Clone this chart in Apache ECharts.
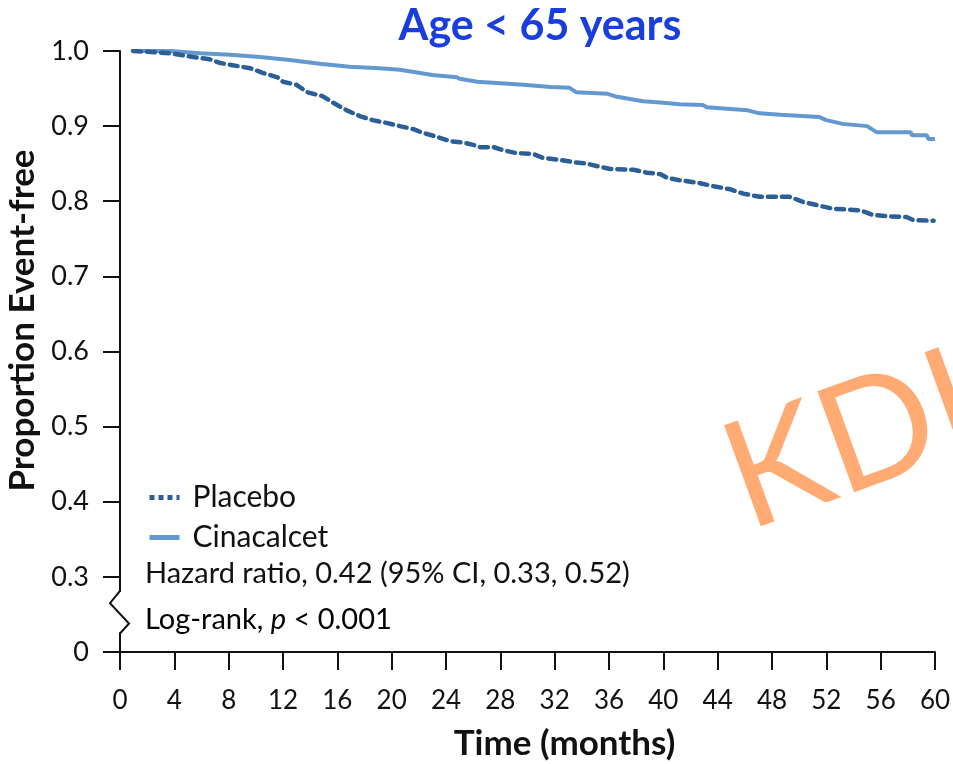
<!DOCTYPE html>
<html>
<head>
<meta charset="utf-8">
<script src="https://cdn.jsdelivr.net/npm/echarts@6/dist/echarts.min.js"></script>
<style>
html,body{margin:0;padding:0;background:#fff;}
#chart{width:953px;height:764px;}
</style>
</head>
<body>
<div id="chart"></div>
<script>
// ---- data ----
const seriesNames = ['Placebo', 'Cinacalcet'];
const xTicks = [0,4,8,12,16,20,24,28,32,36,40,44,48,52,56,60];
const yTickLabels = ['0','0.3','0.4','0.5','0.6','0.7','0.8','0.9','1.0'];

const placeboMonths = [0.96,3.7,5.4,6.6,7.4,8.3,9.6,10.5,11.6,12.0,13.0,13.8,14.9,15.7,16.7,17.7,18.6,19.7,20.6,21.6,22.3,23.3,24.3,25.3,26.0,26.5,27.5,28.2,29.2,30.4,31.1,32.4,33.4,34.4,35.3,36.1,37.8,38.8,39.8,40.3,41.2,42.7,43.7,44.9,45.9,47.1,49.3,50.3,51.5,52.5,54.5,55.4,56.5,57.9,58.4,59.9];
const placeboValues = [1.000,0.997,0.992,0.989,0.984,0.981,0.977,0.971,0.965,0.959,0.955,0.945,0.940,0.931,0.921,0.913,0.908,0.904,0.900,0.896,0.891,0.886,0.880,0.878,0.875,0.872,0.872,0.868,0.864,0.863,0.858,0.855,0.852,0.850,0.846,0.843,0.842,0.838,0.836,0.831,0.828,0.824,0.820,0.816,0.810,0.806,0.806,0.799,0.794,0.790,0.788,0.782,0.780,0.779,0.775,0.774];

const cinacalcetMonths = [0.96,3.7,5.9,8.1,10.3,12.5,14.7,16.9,19.1,20.6,23.0,24.8,25.0,26.3,28.0,29.7,31.7,33.1,33.6,35.9,36.6,38.5,40.0,41.2,42.9,43.2,46.2,47.1,48.6,51.5,52.0,53.2,55.0,55.7,58.2,58.3,59.4,59.5,60.0];
const cinacalcetValues = [1.000,1.000,0.997,0.995,0.992,0.988,0.983,0.979,0.977,0.975,0.968,0.965,0.963,0.959,0.957,0.955,0.952,0.951,0.945,0.943,0.939,0.933,0.931,0.929,0.928,0.925,0.921,0.917,0.915,0.912,0.908,0.903,0.900,0.892,0.892,0.888,0.888,0.883,0.883];

const titleText = 'Age < 65 years';
const hrText = 'Hazard ratio, 0.42 (95% CI, 0.33, 0.52)';

// broken axis: 0 is drawn one interval below 0.3
const BREAK_POS = 0.2;

const FONT = 'Lato, "Open Sans", sans-serif';
const PLACEBO_COLOR = '#2c5e97';
const CINA_COLOR = '#6399d0';
const chart = echarts.init(document.getElementById('chart'));

function zip(a, b){ return a.map((m,i)=>[m, b[i]]); }

const option = {
  animation: false,
  backgroundColor: '#ffffff',
  title: {
    text: titleText,
    left: 535, top: 0, textAlign: 'center',
    textStyle: {fontFamily: FONT, fontSize: 43, fontWeight: 'bold', color: '#1a3de0'}
  },
  grid: {left: 120, right: 18, top: 51, bottom: 112, containLabel: false, outerBoundsMode: 'none'},
  legend: {
    orient: 'vertical', left: 147, top: 482, padding: 0,
    itemWidth: 30, itemHeight: 10, itemGap: 9,
    itemStyle: {opacity: 0},
    data: [
      {name: seriesNames[0], lineStyle: {color: PLACEBO_COLOR, width: 5, type: [5, 4], cap: 'butt'}},
      {name: seriesNames[1], lineStyle: {color: CINA_COLOR, width: 5, type: 'solid'}}
    ],
    textStyle: {fontFamily: FONT, fontSize: 30, color: '#111', padding: [0,0,0,8], lineHeight: 31}
  },
  xAxis: {
    type: 'value', min: 0, max: 60, interval: 4,
    name: 'Time (months)', nameLocation: 'middle', nameGap: 74,
    nameTextStyle: {fontFamily: FONT, fontSize: 35, fontWeight: 'bold', color: '#111', padding: [0,0,0,74]},
    axisLine: {lineStyle: {color: '#111', width: 2}},
    axisTick: {length: 18, lineStyle: {color: '#111', width: 2}},
    axisLabel: {fontFamily: FONT, fontSize: 26, color: '#111', margin: 36,
      formatter: v => xTicks.indexOf(v) >= 0 ? String(v) : ''},
    splitLine: {show: false}
  },
  yAxis: {
    type: 'value', min: BREAK_POS, max: 1.0, interval: 0.1,
    name: 'Proportion Event-free', nameLocation: 'middle', nameGap: 76,
    nameTextStyle: {fontFamily: FONT, fontSize: 35, fontWeight: 'bold', color: '#111', padding: [0,0,0,62]},
    axisLine: {show: true, lineStyle: {color: '#111', width: 2}},
    axisTick: {show: true, length: 17, lineStyle: {color: '#111', width: 2}},
    axisLabel: {fontFamily: FONT, fontSize: 27, color: '#111', margin: 31,
      formatter: v => {
        const idx = Math.round((v - BREAK_POS) * 10);
        return yTickLabels[idx] !== undefined ? yTickLabels[idx] : '';
      }},
    splitLine: {show: false}
  },
  series: [
    {
      name: seriesNames[0], type: 'line', showSymbol: false, symbol: 'none',
      data: zip(placeboMonths, placeboValues),
      itemStyle: {color: PLACEBO_COLOR},
      lineStyle: {color: PLACEBO_COLOR, width: 4.5, type: [8, 6], cap: 'round'},
      z: 3
    },
    {
      name: seriesNames[1], type: 'line', showSymbol: false, symbol: 'none',
      data: zip(cinacalcetMonths, cinacalcetValues),
      itemStyle: {color: CINA_COLOR},
      lineStyle: {color: CINA_COLOR, width: 4},
      z: 2
    }
  ]
};
chart.setOption(option);

// decorations: axis break zigzag, annotations, watermark
const P = (x, y) => chart.convertToPixel({gridIndex: 0}, [x, y]);
const axX = P(0, 0.3)[0];
const yA = P(0, 0.28)[1], yB = P(0, 0.265)[1], yC = P(0, 0.238)[1], yD = P(0, 0.226)[1];
const hrY = P(0, 0.3)[1];
const lrY = P(0, 0.24)[1];

chart.setOption({
  graphic: [
    {type: 'rect', shape: {x: axX - 3, y: yA, width: 6, height: yD - yA}, style: {fill: '#fff'}, z: 50},
    {type: 'polyline', shape: {points: [[axX, yA - 1], [axX - 10, yB], [axX + 9, yC], [axX, yD + 1]]},
      style: {stroke: '#111', lineWidth: 2, fill: null}, z: 51},
    {type: 'text', left: 145, top: hrY - 18, z: 60,
      style: {text: hrText, font: '29px ' + FONT, fill: '#111'}},
    {type: 'text', left: 145, top: lrY - 17, z: 60,
      style: {text: '{n|Log-rank, }{i|p}{n| < 0.001}',
        rich: {n: {fontFamily: FONT, fontSize: 29, color: '#111'},
               i: {fontFamily: FONT, fontSize: 29, fontStyle: 'italic', color: '#111'}}}},
    {type: 'text', x: 757, y: 556, rotation: 20 * Math.PI / 180, z: 40,
      style: {text: 'KDIGO', font: '150px ' + FONT, fill: '#ffab73', textVerticalAlign: 'bottom'}}
  ]
});
</script>
</body>
</html>
